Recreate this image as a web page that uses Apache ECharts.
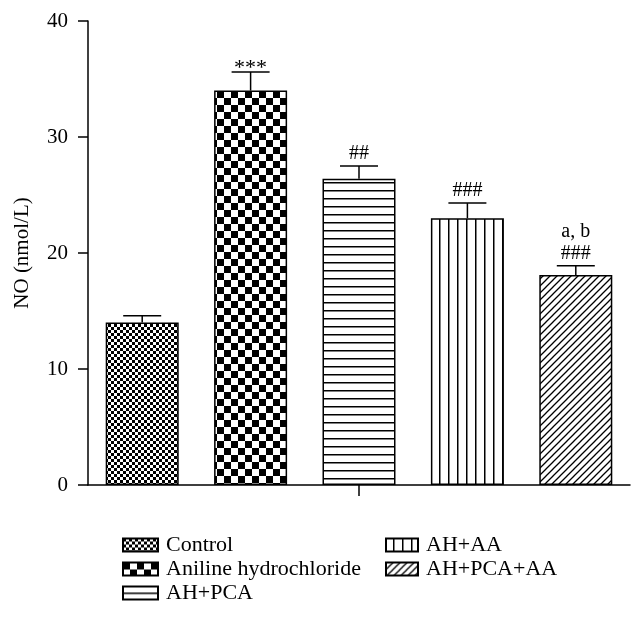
<!DOCTYPE html>
<html><head><meta charset="utf-8">
<script src="https://cdn.jsdelivr.net/npm/echarts@6/dist/echarts.min.js"></script>
<style>html,body{margin:0;padding:0;background:#fff}#c{width:643px;height:626px}</style>
</head><body><div id="c"></div>
<script>
var categories = ['Control', 'Aniline hydrochloride', 'AH+PCA', 'AH+AA', 'AH+PCA+AA'];
var means = [14.0, 34.0, 26.4, 23.0, 18.1];
var errors = [0.6, 1.6, 1.1, 1.3, 0.8];
var annotations = ['', '***', '##', '###', 'a, b\n###'];
var yTicks = [0, 10, 20, 30, 40];
var tickedCategory = 'AH+PCA';

function pat(kind) {
  var c = document.createElement('canvas');
  var ctx = c.getContext('2d');
  if (kind === 'fine') {
    c.width = 6; c.height = 6;
    ctx.fillStyle = '#fff'; ctx.fillRect(0,0,6,6);
    ctx.fillStyle = '#000'; ctx.fillRect(0,0,3,3); ctx.fillRect(3,3,3,3);
  } else if (kind === 'big') {
    c.width = 14; c.height = 14;
    ctx.fillStyle = '#fff'; ctx.fillRect(0,0,14,14);
    ctx.fillStyle = '#000'; ctx.fillRect(0,0,7,7); ctx.fillRect(7,7,7,7);
  } else if (kind === 'h') {
    c.width = 8; c.height = 8;
    ctx.fillStyle = '#fff'; ctx.fillRect(0,0,8,8);
    ctx.fillStyle = '#000'; ctx.fillRect(0,6,8,1.5);
  } else if (kind === 'v') {
    c.width = 9; c.height = 9;
    ctx.fillStyle = '#fff'; ctx.fillRect(0,0,9,9);
    ctx.fillStyle = '#000'; ctx.fillRect(7,0,1.5,9);
  } else {
    c.width = 7; c.height = 7;
    ctx.fillStyle = '#fff'; ctx.fillRect(0,0,7,7);
    ctx.strokeStyle = '#000'; ctx.lineWidth = 1.3;
    ctx.beginPath();
    ctx.moveTo(-1, 8); ctx.lineTo(8, -1);
    ctx.moveTo(-1, 1); ctx.lineTo(1, -1);
    ctx.moveTo(6, 8); ctx.lineTo(8, 6);
    ctx.stroke();
  }
  return {image: c, repeat: 'repeat'};
}
var patterns = [pat('fine'), pat('big'), pat('h'), pat('v'), pat('d')];
var FONT = '"Liberation Serif", "DejaVu Serif", serif';

var series = categories.map(function (name, i) {
  return {
    name: name, type: 'bar', stack: 'all', barWidth: 73,
    itemStyle: {color: patterns[i], borderColor: '#000', borderWidth: 1.5},
    data: categories.map(function (_, j) { return j === i ? means[i] : '-'; }),
    z: 2
  };
});

series.push({
  type: 'custom', name: 'err', z: 3, silent: true,
  data: categories.map(function (c, i) { return [i, means[i], errors[i]]; }),
  renderItem: function (params, api) {
    var x = api.value(0), m = api.value(1), e = api.value(2);
    var p0 = api.coord([x, m]);
    var p1 = api.coord([x, m + e]);
    var half = 19;
    var st = {stroke: '#000', lineWidth: 1.5};
    var ann = annotations[params.dataIndex];
    var children = [
      {type: 'line', shape: {x1: p0[0], y1: p0[1], x2: p1[0], y2: p1[1]}, style: st},
      {type: 'line', shape: {x1: p1[0] - half, y1: p1[1], x2: p1[0] + half, y2: p1[1]}, style: st}
    ];
    if (ann) {
      var star = /^\*+$/.test(ann);
      children.push({type: 'text', x: p1[0], y: p1[1] + (star ? 7 : -1),
        style: {text: ann, fill: '#000', font: (star ? '22px ' : '20px ') + FONT,
          align: 'center', verticalAlign: 'bottom', lineHeight: 22}});
    }
    if (categories[params.dataIndex] === tickedCategory) {
      var b = api.coord([x, 0]);
      children.push({type: 'line', shape: {x1: b[0], y1: b[1], x2: b[0], y2: b[1] + 11}, style: st});
    }
    return {type: 'group', children: children};
  }
});

var chart = echarts.init(document.getElementById('c'), null, {renderer: 'canvas'});
chart.setOption({
  animation: false,
  backgroundColor: '#fff',
  grid: {left: 88, right: 13, top: 21, bottom: 141},
  xAxis: {
    type: 'category', data: categories,
    axisLine: {lineStyle: {color: '#000', width: 1.5}},
    axisTick: {show: false},
    axisLabel: {show: false}
  },
  yAxis: {
    type: 'value', min: yTicks[0], max: yTicks[yTicks.length - 1], interval: 10,
    name: 'NO (nmol/L)', nameLocation: 'middle', nameGap: 55,
    nameTextStyle: {fontFamily: FONT, fontSize: 21, color: '#000'},
    axisLine: {show: true, lineStyle: {color: '#000', width: 1.5}},
    axisTick: {show: true, length: 10, lineStyle: {color: '#000', width: 1.5}},
    axisLabel: {fontFamily: FONT, fontSize: 21, color: '#000', margin: 20},
    splitLine: {show: false}
  },
  legend: [
    {data: categories.slice(0, 3), orient: 'vertical', left: 117, top: 529, icon: 'rect',
      itemWidth: 35, itemHeight: 13, itemGap: 2, selectedMode: false,
      textStyle: {fontFamily: FONT, fontSize: 22, color: '#000', padding: [0, 0, 0, 3]}},
    {data: categories.slice(3), orient: 'vertical', left: 380, top: 529, icon: 'rect',
      itemWidth: 32, itemHeight: 13, itemGap: 2, selectedMode: false,
      textStyle: {fontFamily: FONT, fontSize: 22, color: '#000', padding: [0, 0, 0, 3]}}
  ],
  series: series
});
</script></body></html>
